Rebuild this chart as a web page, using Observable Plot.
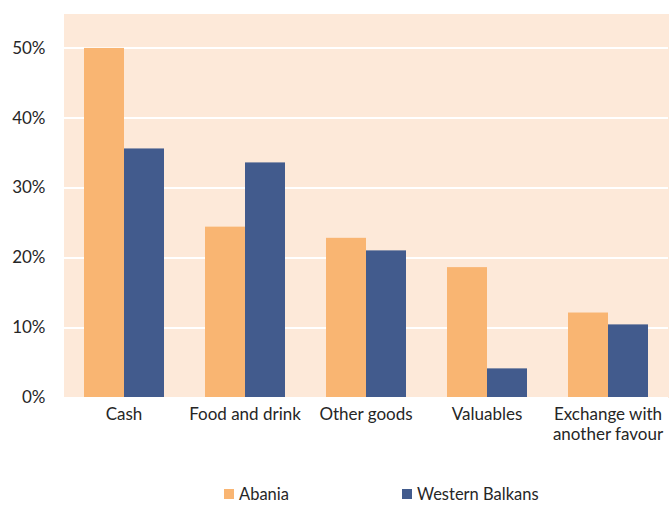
<!DOCTYPE html>
<html><head><meta charset="utf-8">
<script src="https://cdn.jsdelivr.net/npm/d3@7"></script>
<script src="https://cdn.jsdelivr.net/npm/@observablehq/plot@0.6"></script>
<style>
body{margin:0;background:#fff;font-family:Lato,"Open Sans",sans-serif;overflow:hidden;}
#legend{position:relative;width:669px;height:45px;font-size:16.5px;color:#262626;}
.item{position:absolute;top:27px;height:14px;line-height:14px;display:flex;align-items:center;}
.sw{width:10px;height:10px;margin-right:5px;}
</style>
</head><body>
<div id="chart"></div>
<div id="legend"></div>
<script>
const categories = ["Cash", "Food and drink", "Other goods", "Valuables", "Exchange with another favour"];
const categoryLabels = ["Cash", "Food and drink", "Other goods", "Valuables", "Exchange with\nanother favour"];
const seriesNames = ["Abania", "Western Balkans"];
const albania = [50.0, 24.4, 22.8, 18.6, 12.1];
const westernBalkans = [35.6, 33.6, 21.0, 4.1, 10.4];
const seriesColors = ["#F9B572", "#425B8D"];
const yTicks = [0, 10, 20, 30, 40, 50];

const data = categories.flatMap((c, i) => [
  {cat: c, series: seriesNames[0], value: albania[i]},
  {cat: c, series: seriesNames[1], value: westernBalkans[i]}
]);
const labelOf = new Map(categories.map((c, i) => [c, categoryLabels[i]]));

const chart = Plot.plot({
  width: 669, height: 460,
  marginTop: 13, marginLeft: 62, marginRight: 0, marginBottom: 63,
  style: {fontFamily: "Lato, 'Open Sans', sans-serif", fontSize: "17px", color: "#262626", background: "white"},
  fx: {domain: categories, padding: 0, label: null},
  x: {domain: seriesNames, paddingInner: 0, paddingOuter: 0.488, axis: null, label: null},
  y: {domain: [0, 55], label: null},
  color: {domain: seriesNames, range: seriesColors},
  marks: [
    Plot.frame({fill: "#FDE9D9", stroke: null, shapeRendering: "crispEdges"}),
    Plot.gridY(yTicks, {stroke: "white", strokeOpacity: 1, strokeWidth: 2, shapeRendering: "crispEdges"}),
    Plot.barY(data, {fx: "cat", x: "series", y: "value", fill: "series"}),
    Plot.axisY(yTicks, {tickSize: 0, tickPadding: 18, tickFormat: d => d + "%", fill: "#262626", fontSize: 17}),
    Plot.axisFx({anchor: "bottom", tickSize: 0, tickPadding: 8, tickFormat: d => labelOf.get(d), lineHeight: 1.18, label: null, fill: "#262626", fontSize: 17})
  ]
});
document.getElementById("chart").appendChild(chart);

const legend = document.getElementById("legend");
const lefts = [224, 402];
seriesNames.forEach((s, i) => {
  const it = document.createElement("div");
  it.className = "item";
  it.style.left = lefts[i] + "px";
  it.innerHTML = `<span class="sw" style="background:${seriesColors[i]}"></span><span>${s}</span>`;
  legend.appendChild(it);
});
</script>
</body></html>
